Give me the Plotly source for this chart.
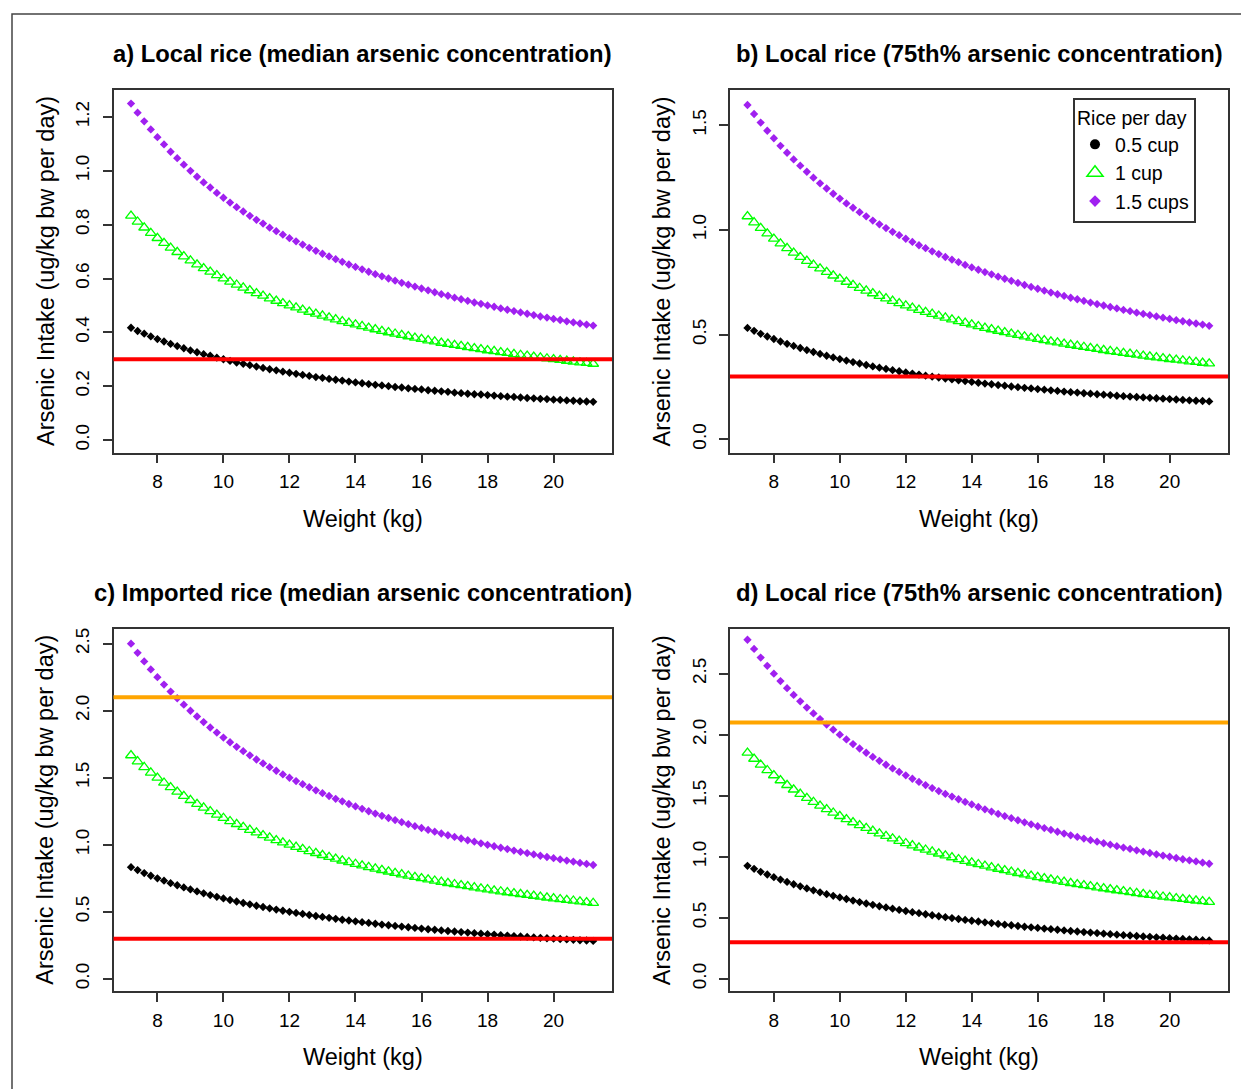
import plotly.graph_objects as go

# ---------------- data ----------------
weight_kg = [7.2, 7.4, 7.6, 7.8, 8.0, 8.2, 8.4, 8.6, 8.8, 9.0,
             9.2, 9.4, 9.6, 9.8, 10.0, 10.2, 10.4, 10.6, 10.8, 11.0,
             11.2, 11.4, 11.6, 11.8, 12.0, 12.2, 12.4, 12.6, 12.8, 13.0,
             13.2, 13.4, 13.6, 13.8, 14.0, 14.2, 14.4, 14.6, 14.8, 15.0,
             15.2, 15.4, 15.6, 15.8, 16.0, 16.2, 16.4, 16.6, 16.8, 17.0,
             17.2, 17.4, 17.6, 17.8, 18.0, 18.2, 18.4, 18.6, 18.8, 19.0,
             19.2, 19.4, 19.6, 19.8, 20.0, 20.2, 20.4, 20.6, 20.8, 21.0, 21.2]

# a) Local rice (median)
a_half_cup = [0.417, 0.405, 0.395, 0.385, 0.375, 0.366, 0.357, 0.349, 0.341, 0.333,
              0.326, 0.319, 0.313, 0.306, 0.300, 0.294, 0.288, 0.283, 0.278, 0.273,
              0.268, 0.263, 0.259, 0.254, 0.250, 0.246, 0.242, 0.238, 0.234, 0.231,
              0.227, 0.224, 0.221, 0.217, 0.214, 0.211, 0.208, 0.205, 0.203, 0.200,
              0.197, 0.195, 0.192, 0.190, 0.188, 0.185, 0.183, 0.181, 0.179, 0.176,
              0.174, 0.172, 0.170, 0.169, 0.167, 0.165, 0.163, 0.161, 0.160, 0.158,
              0.156, 0.155, 0.153, 0.152, 0.150, 0.149, 0.147, 0.146, 0.144, 0.143, 0.142]
a_one_cup = [0.833, 0.811, 0.789, 0.769, 0.750, 0.732, 0.714, 0.698, 0.682, 0.667,
             0.652, 0.638, 0.625, 0.612, 0.600, 0.588, 0.577, 0.566, 0.556, 0.545,
             0.536, 0.526, 0.517, 0.508, 0.500, 0.492, 0.484, 0.476, 0.469, 0.462,
             0.455, 0.448, 0.441, 0.435, 0.429, 0.423, 0.417, 0.411, 0.405, 0.400,
             0.395, 0.390, 0.385, 0.380, 0.375, 0.370, 0.366, 0.361, 0.357, 0.353,
             0.349, 0.345, 0.341, 0.337, 0.333, 0.330, 0.326, 0.323, 0.319, 0.316,
             0.313, 0.309, 0.306, 0.303, 0.300, 0.297, 0.294, 0.291, 0.288, 0.286, 0.283]
a_onehalf_cups = [1.250, 1.216, 1.184, 1.154, 1.125, 1.098, 1.071, 1.047, 1.023, 1.000,
                  0.978, 0.957, 0.938, 0.918, 0.900, 0.882, 0.865, 0.849, 0.833, 0.818,
                  0.804, 0.789, 0.776, 0.763, 0.750, 0.738, 0.726, 0.714, 0.703, 0.692,
                  0.682, 0.672, 0.662, 0.652, 0.643, 0.634, 0.625, 0.616, 0.608, 0.600,
                  0.592, 0.584, 0.577, 0.570, 0.563, 0.556, 0.549, 0.542, 0.536, 0.529,
                  0.523, 0.517, 0.511, 0.506, 0.500, 0.495, 0.489, 0.484, 0.479, 0.474,
                  0.469, 0.464, 0.459, 0.455, 0.450, 0.446, 0.441, 0.437, 0.433, 0.429, 0.425]

# b) Local rice (75th%)
b_half_cup = [0.532, 0.518, 0.504, 0.491, 0.479, 0.467, 0.456, 0.446, 0.436, 0.426,
              0.417, 0.408, 0.399, 0.391, 0.383, 0.376, 0.369, 0.362, 0.355, 0.348,
              0.342, 0.336, 0.330, 0.325, 0.319, 0.314, 0.309, 0.304, 0.299, 0.295,
              0.290, 0.286, 0.282, 0.278, 0.274, 0.270, 0.266, 0.263, 0.259, 0.256,
              0.252, 0.249, 0.246, 0.243, 0.240, 0.237, 0.234, 0.231, 0.228, 0.225,
              0.223, 0.220, 0.218, 0.215, 0.213, 0.211, 0.208, 0.206, 0.204, 0.202,
              0.200, 0.198, 0.196, 0.194, 0.192, 0.190, 0.188, 0.186, 0.184, 0.183, 0.181]
b_one_cup = [1.065, 1.036, 1.009, 0.983, 0.958, 0.935, 0.913, 0.891, 0.871, 0.852,
             0.833, 0.816, 0.799, 0.782, 0.767, 0.752, 0.737, 0.723, 0.710, 0.697,
             0.685, 0.673, 0.661, 0.650, 0.639, 0.628, 0.618, 0.608, 0.599, 0.590,
             0.581, 0.572, 0.564, 0.556, 0.548, 0.540, 0.532, 0.525, 0.518, 0.511,
             0.504, 0.498, 0.491, 0.485, 0.479, 0.473, 0.467, 0.462, 0.456, 0.451,
             0.446, 0.441, 0.436, 0.431, 0.426, 0.421, 0.417, 0.412, 0.408, 0.404,
             0.399, 0.395, 0.391, 0.387, 0.383, 0.380, 0.376, 0.372, 0.369, 0.365, 0.362]
b_onehalf_cups = [1.597, 1.554, 1.513, 1.474, 1.438, 1.402, 1.369, 1.337, 1.307, 1.278,
                  1.250, 1.223, 1.198, 1.173, 1.150, 1.127, 1.106, 1.085, 1.065, 1.045,
                  1.027, 1.009, 0.991, 0.975, 0.958, 0.943, 0.927, 0.913, 0.898, 0.885,
                  0.871, 0.858, 0.846, 0.833, 0.821, 0.810, 0.799, 0.788, 0.777, 0.767,
                  0.757, 0.747, 0.737, 0.728, 0.719, 0.710, 0.701, 0.693, 0.685, 0.676,
                  0.669, 0.661, 0.653, 0.646, 0.639, 0.632, 0.625, 0.618, 0.612, 0.605,
                  0.599, 0.593, 0.587, 0.581, 0.575, 0.569, 0.564, 0.558, 0.553, 0.548, 0.542]

# c) Imported rice (median)
c_half_cup = [0.833, 0.811, 0.789, 0.769, 0.750, 0.732, 0.714, 0.698, 0.682, 0.667,
              0.652, 0.638, 0.625, 0.612, 0.600, 0.588, 0.577, 0.566, 0.556, 0.545,
              0.536, 0.526, 0.517, 0.508, 0.500, 0.492, 0.484, 0.476, 0.469, 0.462,
              0.455, 0.448, 0.441, 0.435, 0.429, 0.423, 0.417, 0.411, 0.405, 0.400,
              0.395, 0.390, 0.385, 0.380, 0.375, 0.370, 0.366, 0.361, 0.357, 0.353,
              0.349, 0.345, 0.341, 0.337, 0.333, 0.330, 0.326, 0.323, 0.319, 0.316,
              0.313, 0.309, 0.306, 0.303, 0.300, 0.297, 0.294, 0.291, 0.288, 0.286, 0.283]
c_one_cup = [1.667, 1.622, 1.579, 1.538, 1.500, 1.463, 1.429, 1.395, 1.364, 1.333,
             1.304, 1.277, 1.250, 1.224, 1.200, 1.176, 1.154, 1.132, 1.111, 1.091,
             1.071, 1.053, 1.034, 1.017, 1.000, 0.984, 0.968, 0.952, 0.938, 0.923,
             0.909, 0.896, 0.882, 0.870, 0.857, 0.845, 0.833, 0.822, 0.811, 0.800,
             0.789, 0.779, 0.769, 0.759, 0.750, 0.741, 0.732, 0.723, 0.714, 0.706,
             0.698, 0.690, 0.682, 0.674, 0.667, 0.659, 0.652, 0.645, 0.638, 0.632,
             0.625, 0.619, 0.612, 0.606, 0.600, 0.594, 0.588, 0.583, 0.577, 0.571, 0.566]
c_onehalf_cups = [2.500, 2.432, 2.368, 2.308, 2.250, 2.195, 2.143, 2.093, 2.045, 2.000,
                  1.957, 1.915, 1.875, 1.837, 1.800, 1.765, 1.731, 1.698, 1.667, 1.636,
                  1.607, 1.579, 1.552, 1.525, 1.500, 1.475, 1.452, 1.429, 1.406, 1.385,
                  1.364, 1.343, 1.324, 1.304, 1.286, 1.268, 1.250, 1.233, 1.216, 1.200,
                  1.184, 1.169, 1.154, 1.139, 1.125, 1.111, 1.098, 1.084, 1.071, 1.059,
                  1.047, 1.034, 1.023, 1.011, 1.000, 0.989, 0.978, 0.968, 0.957, 0.947,
                  0.938, 0.928, 0.918, 0.909, 0.900, 0.891, 0.882, 0.874, 0.865, 0.857, 0.849]

# d) Local rice (75th%)
d_half_cup = [0.926, 0.901, 0.877, 0.855, 0.833, 0.813, 0.794, 0.775, 0.758, 0.741,
              0.725, 0.709, 0.694, 0.680, 0.667, 0.654, 0.641, 0.629, 0.617, 0.606,
              0.595, 0.585, 0.575, 0.565, 0.556, 0.546, 0.538, 0.529, 0.521, 0.513,
              0.505, 0.498, 0.490, 0.483, 0.476, 0.470, 0.463, 0.457, 0.450, 0.444,
              0.439, 0.433, 0.427, 0.422, 0.417, 0.412, 0.407, 0.402, 0.397, 0.392,
              0.388, 0.383, 0.379, 0.375, 0.370, 0.366, 0.362, 0.358, 0.355, 0.351,
              0.347, 0.344, 0.340, 0.337, 0.333, 0.330, 0.327, 0.324, 0.321, 0.317, 0.315]
d_one_cup = [1.852, 1.802, 1.754, 1.709, 1.667, 1.626, 1.587, 1.550, 1.515, 1.481,
             1.449, 1.418, 1.389, 1.361, 1.333, 1.307, 1.282, 1.258, 1.235, 1.212,
             1.190, 1.170, 1.149, 1.130, 1.111, 1.093, 1.075, 1.058, 1.042, 1.026,
             1.010, 0.995, 0.980, 0.966, 0.952, 0.939, 0.926, 0.913, 0.901, 0.889,
             0.877, 0.866, 0.855, 0.844, 0.833, 0.823, 0.813, 0.803, 0.794, 0.784,
             0.775, 0.766, 0.758, 0.749, 0.741, 0.733, 0.725, 0.717, 0.709, 0.702,
             0.694, 0.687, 0.680, 0.673, 0.667, 0.660, 0.654, 0.647, 0.641, 0.635, 0.629]
d_onehalf_cups = [2.778, 2.703, 2.632, 2.564, 2.500, 2.439, 2.381, 2.326, 2.273, 2.222,
                  2.174, 2.128, 2.083, 2.041, 2.000, 1.961, 1.923, 1.887, 1.852, 1.818,
                  1.786, 1.754, 1.724, 1.695, 1.667, 1.639, 1.613, 1.587, 1.563, 1.538,
                  1.515, 1.493, 1.471, 1.449, 1.429, 1.408, 1.389, 1.370, 1.351, 1.333,
                  1.316, 1.299, 1.282, 1.266, 1.250, 1.235, 1.220, 1.205, 1.190, 1.176,
                  1.163, 1.149, 1.136, 1.124, 1.111, 1.099, 1.087, 1.075, 1.064, 1.053,
                  1.042, 1.031, 1.020, 1.010, 1.000, 0.990, 0.980, 0.971, 0.962, 0.952, 0.943]

panel_titles = ["a) Local rice (median arsenic concentration)",
                "b) Local rice (75th% arsenic concentration)",
                "c) Imported rice (median arsenic concentration)",
                "d) Local rice (75th% arsenic concentration)"]
series_names = ["0.5 cup", "1 cup", "1.5 cups"]
legend_title = "Rice per day"
x_title = "Weight (kg)"
y_title = "Arsenic Intake (ug/kg bw per day)"

x_ticks = [8, 10, 12, 14, 16, 18, 20]
y_ticks_a = [0.0, 0.2, 0.4, 0.6, 0.8, 1.0, 1.2]
y_ticks_b = [0.0, 0.5, 1.0, 1.5]
y_ticks_c = [0.0, 0.5, 1.0, 1.5, 2.0, 2.5]
y_ticks_d = [0.0, 0.5, 1.0, 1.5, 2.0, 2.5]

red_ref_line = [0.3, 0.3, 0.3, 0.3]          # reference dose line, every panel
orange_ref_line = [None, None, 2.1, 2.1]     # second reference line, panels c and d

# ---------------- layout / style ----------------
OFF = 8                      # page body margin in the browser
W, H = 1249 - OFF, 1089 - OFF
FONT = "Liberation Sans, Arial, Helvetica, sans-serif"
AX = "#333333"

def px_x(p):
    return (p - OFF) / W

def px_y(p):
    return 1 - (p - OFF) / H

# plot boxes in target-page pixels: (left, right, top, bottom)
boxes = [(113.5, 612, 88.5, 451.5), (730, 1228, 88.5, 451.5),
         (113.5, 612, 628.5, 991), (730, 1228, 628.5, 991)]
y_ranges = [[-0.047, 1.299], [-0.064, 1.667], [-0.092, 2.607], [-0.101, 2.863]]
x_range = [6.67, 21.77]

panels = [
    dict(title=panel_titles[0], ys=[a_half_cup, a_one_cup, a_onehalf_cups], yt=y_ticks_a),
    dict(title=panel_titles[1], ys=[b_half_cup, b_one_cup, b_onehalf_cups], yt=y_ticks_b),
    dict(title=panel_titles[2], ys=[c_half_cup, c_one_cup, c_onehalf_cups], yt=y_ticks_c),
    dict(title=panel_titles[3], ys=[d_half_cup, d_one_cup, d_onehalf_cups], yt=y_ticks_d),
]

marker_styles = [
    dict(symbol="diamond", size=6.4, color="#000000"),
    dict(symbol="triangle-up-open", size=9.5, color="#00FF00", line=dict(color="#00FF00", width=1.3)),
    dict(symbol="diamond", size=6.4, color="#A020F0"),
]

fig = go.Figure()
layout = dict(
    width=W, height=H,
    margin=dict(l=0, r=0, t=0, b=0),
    paper_bgcolor="white", plot_bgcolor="white",
    font=dict(family=FONT, color="black"),
    showlegend=True,
)
annotations = []
shapes = []

for i, p in enumerate(panels):
    n = "" if i == 0 else str(i + 1)
    xa, ya = "x" + n, "y" + n
    l, r, t, b = boxes[i]
    for k in range(3):
        fig.add_trace(go.Scatter(
            x=weight_kg, y=p["ys"][k], mode="markers", xaxis=xa, yaxis=ya,
            marker=marker_styles[k], showlegend=False, hoverinfo="skip"))
    common = dict(showline=True, mirror=True, linecolor=AX, linewidth=1.5,
                  ticks="outside", ticklen=9, tickwidth=1.5, tickcolor=AX,
                  showgrid=False, zeroline=False,
                  tickfont=dict(family=FONT, size=19, color="black"))
    layout["xaxis" + n] = dict(common, domain=[px_x(l), px_x(r)], range=x_range,
                               tickvals=x_ticks, anchor=ya, ticklabelstandoff=2)
    layout["yaxis" + n] = dict(common, domain=[px_y(b), px_y(t)], range=y_ranges[i],
                               tickvals=p["yt"], tickformat=".1f", tickangle=-90,
                               anchor=xa, ticklabelstandoff=6)
    # reference lines
    for val, col in ((red_ref_line[i], "#FF0000"), (orange_ref_line[i], "#FFA500")):
        if val is None:
            continue
        shapes.append(dict(type="line", xref=xa + " domain", yref=ya,
                           x0=0, x1=1, y0=val, y1=val,
                           line=dict(color=col, width=4), layer="above"))
    cx = (l + r) / 2
    annotations.append(dict(text="<b>" + p["title"] + "</b>", xref="paper", yref="paper",
                            x=px_x(cx), y=px_y(t - 37), showarrow=False,
                            xanchor="center", yanchor="middle",
                            font=dict(family=FONT, size=23.8, color="black")))
    annotations.append(dict(text=x_title, xref="paper", yref="paper",
                            x=px_x(cx), y=px_y(b + 66), showarrow=False,
                            xanchor="center", yanchor="middle",
                            font=dict(family=FONT, size=23.5, color="black")))
    annotations.append(dict(text=y_title, xref="paper", yref="paper",
                            x=px_x(l - 68), y=px_y((t + b) / 2), showarrow=False,
                            xanchor="center", yanchor="middle", textangle=-90,
                            font=dict(family=FONT, size=23.5, color="black")))

# legend-only traces (R legend uses a round dot for 0.5 cup)
legend_markers = [
    dict(symbol="circle", size=10, color="#000000"),
    dict(symbol="triangle-up-open", size=14, color="#00FF00", line=dict(color="#00FF00", width=1.5)),
    dict(symbol="diamond", size=9, color="#A020F0"),
]
for k in range(3):
    fig.add_trace(go.Scatter(x=[None], y=[None], mode="markers", name=series_names[k],
                             marker=legend_markers[k], xaxis="x2", yaxis="y2",
                             showlegend=True))

layout["legend"] = dict(
    x=px_x(1073), y=px_y(96), xanchor="left", yanchor="top",
    bgcolor="white", bordercolor=AX, borderwidth=2,
    font=dict(family=FONT, size=19.5, color="black"),
    title=dict(text=legend_title, font=dict(family=FONT, size=19.5, color="black")),
    tracegroupgap=0, itemwidth=30,
)

# outer frame of the figure (only top and left edges are inside the picture)
shapes.append(dict(type="rect", xref="paper", yref="paper",
                   x0=px_x(12), x1=1.05, y0=-0.05, y1=px_y(12),
                   line=dict(color="#444444", width=1.5), layer="above"))

layout["annotations"] = annotations
layout["shapes"] = shapes
fig.update_layout(**layout)
fig.write_html("out.html")
